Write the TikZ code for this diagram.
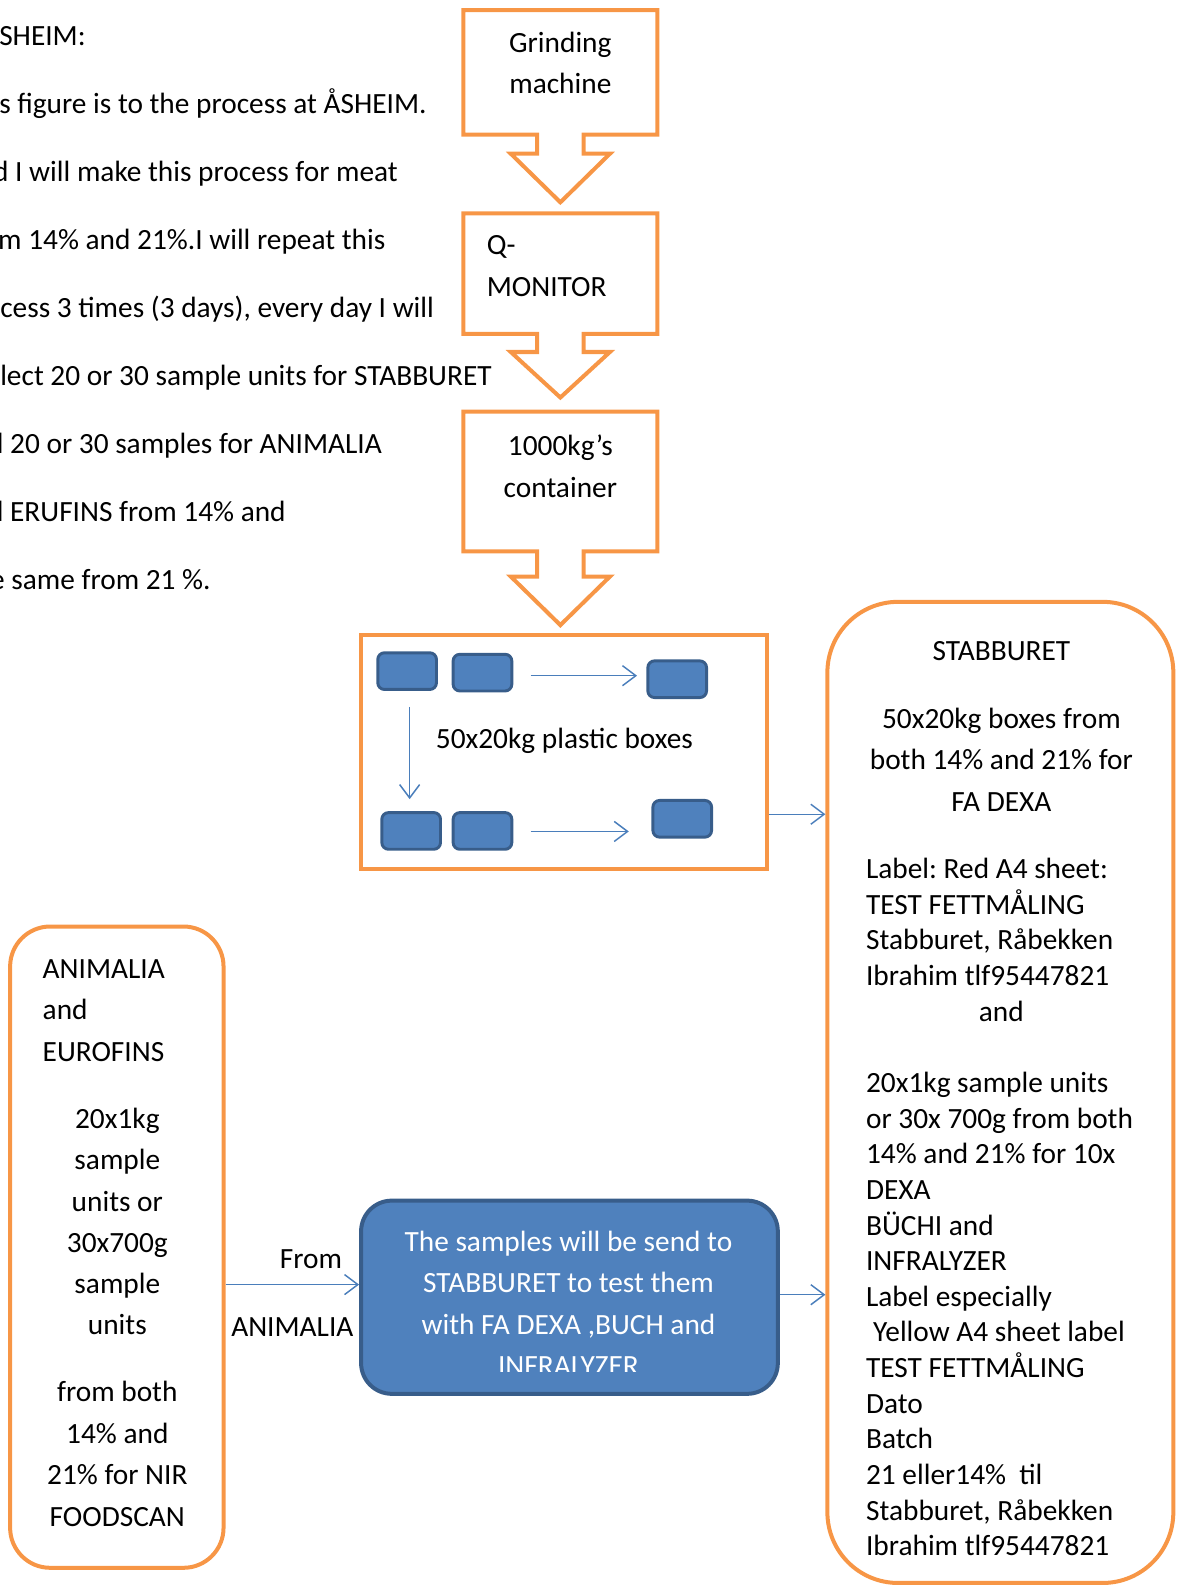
\documentclass[tikz,border=0pt]{standalone}
\usepackage{fontspec}
\setmainfont{Carlito}
\frenchspacing
\usetikzlibrary{arrows.meta,fit,positioning}

\definecolor{boxorange}{HTML}{F79646}
\definecolor{boxblue}{HTML}{4F81BD}
\definecolor{boxedge}{HTML}{385D8A}
\definecolor{linkblue}{HTML}{4A7EBB}

\tikzset{
  txt/.style={font=\fontsize{22}{27}\selectfont, inner sep=0pt},
  frame/.style={draw=boxorange, line width=3pt, inner sep=0pt},
  crate/.style={draw=boxedge, fill=boxblue, line width=2.2pt, rounded corners=5pt,
                minimum width=44pt, minimum height=27.5pt, inner sep=0pt},
  link/.style={draw=linkblue, line width=1.1pt, -{Straight Barb[length=10pt,width=15pt]}},
}

\begin{document}
\begin{tikzpicture}[x=0.7584pt,y=-0.7584pt]
  \useasboundingbox (0,0) rectangle (1163,1568);

  % notes at the top left, cut by the page edge
  \foreach \dx/\t [count=\i] in {-1/SHEIM:,
      -1/s figure is to the process at ÅSHEIM.,
      -7/d I will make this process for meat,
      -2/m 14\% and 21\%.I will repeat this,
      0/{cess 3 times (3 days), every day I will},
      0/lect 20 or 30 sample units for STABBURET,
      -12/d 20 or 30 samples for ANIMALIA,
      -12/d ERUFINS from 14\% and,
      -10/e same from 21 \%.}
    \node[txt, anchor=base west] (intro\i) at (\dx, -22.25+67.25*\i) {\t};

  % the three block arrows
  \foreach \ya/\yb/\yc/\yd in {10/133/152/200, 211/330/348/393, 407/545/570/618}
    \draw[frame] (458,\ya) -- (650,\ya) -- (650,\yb) -- (577,\yb) -- (577,\yc)
      -- (603,\yc) -- (554,\yd) -- (505,\yc) -- (531,\yc) -- (531,\yb)
      -- (458,\yb) -- cycle;

  \node[txt, anchor=base] (grind1) at (554,52) {Grinding};
  \node[txt, anchor=base] (grind2) at (554,92) {machine};
  \node[txt, anchor=base west] (qmon1) at (481,252) {Q-};
  \node[txt, anchor=base west] (qmon2) at (481,293) {MONITOR};
  \node[txt, anchor=base] (cont1) at (554,450) {1000kg’s};
  \node[txt, anchor=base] (cont2) at (554,492) {container};

  % plastic boxes
  \node[frame, fit={(357,628) (758,859)}] (boxes) {};
  \node[crate] (b1) at (402.5,663.5) {};
  \node[crate] (b2) at (477,665) {};
  \node[crate] (b3) at (669.5,671.5) {};
  \node[crate] (b4) at (406.5,821.5) {};
  \node[crate] (b5) at (477,821.5) {};
  \node[crate] (b6) at (674.5,809.5) {};
  \node[txt, anchor=base] (boxlabel) at (558,740) {50x20kg plastic boxes};

  \draw[link, shorten <=13pt, shorten >=7pt] (b2.east |- 0,668) -- (b3.west |- 0,668);
  \draw[link, shorten <=12pt, shorten >=9pt] (405,0 |- b1.south) -- (405,0 |- b4.north);
  \draw[link, shorten <=13pt, shorten >=17pt] (b5.east |- 0,822) -- (b6.west |- 0,822);

  % STABBURET
  \node[frame, rounded corners=53pt, fit={(818,595) (1160,1565)}] (stab) {};
  \node[txt, anchor=base] (stabTitle) at (990,653) {STABBURET};
  \node[txt, anchor=base] (stabA) at (990,720) {50x20kg boxes from};
  \node[txt, anchor=base] (stabB) at (990,761) {both 14\% and 21\% for};
  \node[txt, anchor=base] (stabC) at (990,802) {FA DEXA};
  \foreach \n/\x/\t in {0/856/{Label: Red A4 sheet:}, 1/856/TEST FETTMÅLING,
      2/856/{Stabburet, Råbekken}, 3/856/Ibrahim tlf95447821,
      6/856/20x1kg sample units, 7/856/or 30x 700g from both,
      8/856/14\% and 21\% for 10x, 9/856/DEXA, 10/856/BÜCHI and,
      11/856/INFRALYZER, 12/856/Label especially, 13/863/Yellow A4 sheet label,
      14/856/TEST FETTMÅLING, 15/856/Dato, 16/856/Batch,
      17/856/{21 eller14\%\ \ til}, 18/856/{Stabburet, Råbekken},
      19/856/Ibrahim tlf95447821}
    \node[txt, anchor=base west] (stab\n) at (\x, 868.5+35.25*\n) {\t};
  \node[txt, anchor=base] (stabAnd) at (990, 1009.5) {and};

  \draw[link] (boxes.east |- 0,805) -- (stab.west |- 0,805);

  % ANIMALIA and EUROFINS
  \node[frame, rounded corners=30pt, fit={(10,916) (221,1550)}] (anim) {};
  \foreach \t [count=\i] in {ANIMALIA, and, EUROFINS}
    \node[txt, anchor=base west] (animHead\i) at (42, 926+41*\i) {\t};
  \foreach \t [count=\i] in {20x1kg, sample, units or, 30x700g, sample, units}
    \node[txt, anchor=base] (animUnit\i) at (116, 1075+40.8*\i) {\t};
  \foreach \t [count=\i] in {from both, 14\% and, 21\% for NIR, FOODSCAN}
    \node[txt, anchor=base] (animFrom\i) at (116, 1345+41*\i) {\t};

  % samples sent on
  \node[draw=boxedge, fill=boxblue, line width=3pt, rounded corners=23pt,
        inner sep=0pt, fit={(357,1187) (769,1378)}] (send) {};
  \begin{scope}
    \clip (357,1187) rectangle (769,1356);
    \foreach \t [count=\i] in {The samples will be send to, STABBURET to test them,
        {with FA DEXA ,BUCH and}, INFRALYZER}
      \node[txt, text=white, anchor=base] (send\i) at (562, 1196+41*\i) {\t};
  \end{scope}

  \draw[link] (anim.east |- 0,1270) -- node[txt, above=11pt, xshift=14pt] (fromA) {From}
    node[txt, below=24pt] (fromB) {ANIMALIA} (send.west |- 0,1270);
  \draw[link] (send.east |- 0,1280) -- (stab.west |- 0,1280);
\end{tikzpicture}
\end{document}
